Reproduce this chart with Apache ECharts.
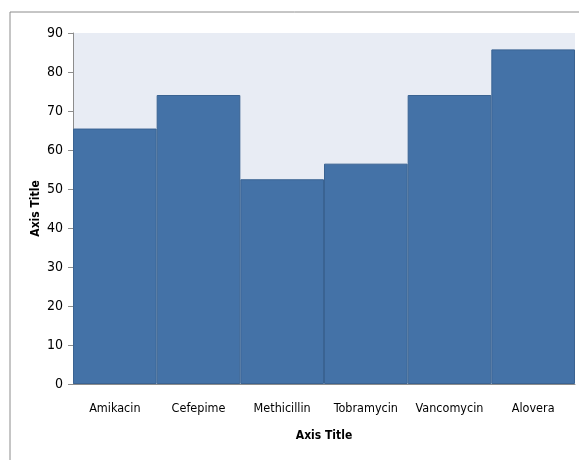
<!DOCTYPE html>
<html>
<head>
<meta charset="utf-8">
<script src="https://cdn.jsdelivr.net/npm/echarts@6/dist/echarts.min.js"></script>
<style>
  html, body { margin: 0; padding: 0; background: #fff; }
  #main { width: 579px; height: 460px; }
</style>
</head>
<body>
<div id="main"></div>
<script>
var categories = ['Amikacin', 'Cefepime', 'Methicillin', 'Tobramycin', 'Vancomycin', 'Alovera'];
var values = [65.5, 74.1, 52.5, 56.5, 74.1, 85.8];
var yTicks = { min: 0, max: 90, interval: 10 };

var labelFont = '"DejaVu Sans Condensed", "Liberation Sans Narrow", "Open Sans", sans-serif';

var myChart = echarts.init(document.getElementById('main'));
var option = {
  backgroundColor: '#fff',
  animation: false,
  graphic: [
    {
      type: 'polyline',
      shape: { points: [[10, 460], [10, 12], [579, 12]] },
      style: { stroke: '#8c8c8c', lineWidth: 1, fill: null }
    }
  ],
  grid: {
    left: 73,
    right: 4,
    top: 33,
    bottom: 76,
    show: true,
    backgroundColor: '#e8ecf4',
    borderWidth: 0
  },
  xAxis: {
    type: 'category',
    data: categories,
    name: 'Axis Title',
    nameLocation: 'middle',
    nameGap: 46,
    nameTextStyle: {
      color: '#000',
      fontWeight: 'bold',
      fontSize: 12,
      fontFamily: labelFont
    },
    axisLine: { lineStyle: { color: '#8c8c8c' } },
    axisTick: { show: false },
    axisLabel: {
      interval: 0,
      color: '#000',
      fontSize: 12.5,
      fontFamily: labelFont,
      margin: 18
    }
  },
  yAxis: {
    type: 'value',
    min: yTicks.min,
    max: yTicks.max,
    interval: yTicks.interval,
    name: 'Axis Title',
    nameLocation: 'middle',
    nameGap: 31,
    nameMoveOverlap: false,
    nameTextStyle: {
      color: '#000',
      fontWeight: 'bold',
      fontSize: 12,
      fontFamily: labelFont
    },
    axisLine: { show: true, lineStyle: { color: '#8c8c8c' } },
    axisTick: { show: true, length: 5, lineStyle: { color: '#8c8c8c' } },
    splitLine: { show: false },
    axisLabel: {
      color: '#000',
      fontSize: 14,
      fontFamily: labelFont,
      margin: 10
    }
  },
  series: [{
    type: 'bar',
    data: values,
    barCategoryGap: 0,
    itemStyle: {
      color: '#4472a7',
      borderColor: '#3a6392',
      borderWidth: 1
    }
  }]
};
myChart.setOption(option);
</script>
</body>
</html>
